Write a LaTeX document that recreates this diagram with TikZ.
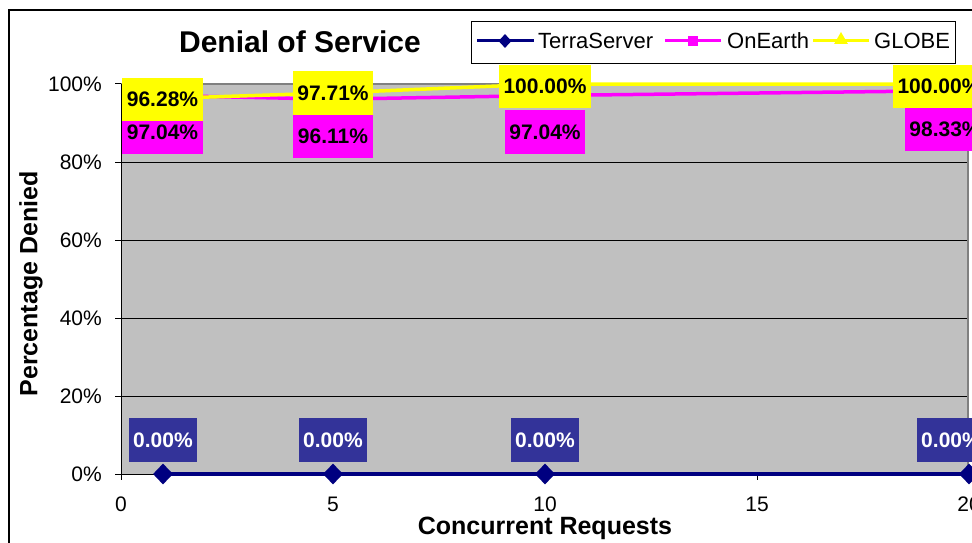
\documentclass[tikz,border=0pt]{standalone}
\usepackage{fontspec}
\setmainfont{Liberation Sans}
\usetikzlibrary{shapes.geometric}
\definecolor{plotgray}{HTML}{C0C0C0}
\definecolor{bordergray}{HTML}{808080}
\definecolor{navyc}{HTML}{000080}
\definecolor{lblblue}{HTML}{333399}
\definecolor{magentac}{HTML}{FF00FF}
\definecolor{yellowc}{HTML}{FFFF00}
\begin{document}
\begin{tikzpicture}[x=1pt,y=-1pt,
  ticklbl/.style={font=\fontsize{21}{25}\selectfont, inner sep=0pt},
  axtitle/.style={font=\bfseries\fontsize{25}{30}\selectfont, inner sep=0pt},
  datalbl/.style={font=\bfseries\fontsize{21}{25}\selectfont, inner sep=0pt, text=black},
  maglbl/.style={datalbl, fill=magentac, minimum width=80pt, minimum height=44pt},
  yellbl/.style={datalbl, fill=yellowc, minimum height=43pt},
  bluelbl/.style={datalbl, fill=lblblue, text=white, minimum width=68pt, minimum height=44pt},
  grid/.style={black, line width=1pt},
  terra/.style={navyc, line width=4pt},
  onearth/.style={magentac, line width=3.5pt},
  globe/.style={yellowc, line width=3.5pt},
  dmark/.style={diamond, fill=navyc, inner sep=0pt, minimum width=20pt, minimum height=21pt},
  smark/.style={rectangle, fill=magentac, inner sep=0pt, minimum size=10pt},
  tmark/.style={isosceles triangle, isosceles triangle apex angle=60, shape border rotate=90, fill=yellowc, inner sep=0pt, minimum size=11pt},
  legtext/.style={font=\fontsize{22}{26}\selectfont, inner sep=0pt, anchor=west}
]
\useasboundingbox (0,0) rectangle (972,543);
\clip (0,0) rectangle (972,543);
\fill[white] (0,0) rectangle (972,543);

% outer chart frame
\draw[black, line width=2pt] (9,600) -- (9,10) -- (1000,10);

% plot area
\fill[plotgray] (121,84) rectangle (968,474);
\foreach \yy in {162,240,318,396} \draw[grid] (121,\yy) -- (968,\yy);
\draw[bordergray, line width=1.5pt] (121,84) -- (968,84) -- (968,474);
\draw[black, line width=1pt] (121,84) -- (121,474) -- (968,474);

% y ticks and labels
\foreach \yy/\lab in {84/100\%,162/80\%,240/60\%,318/40\%,396/20\%,474/0\%} {
  \draw[black, line width=1pt] (115,\yy) -- (121,\yy);
  \node[ticklbl, anchor=east] at (102,\yy) {\lab};
}
% x ticks and labels
\foreach \xx/\lab in {121/0,333/5,545/10,757/15,969/20} {
  \draw[black, line width=1pt] (\xx,474) -- (\xx,480);
  \node[ticklbl] at (\xx,504) {\lab};
}

% data coordinates
\coordinate (t1) at (163,474);
\coordinate (t2) at (333,474);
\coordinate (t3) at (545,474);
\coordinate (t4) at (969,474);
\coordinate (o1) at (163,{474-3.9*97.04});
\coordinate (o2) at (333,{474-3.9*96.11});
\coordinate (o3) at (545,{474-3.9*97.04});
\coordinate (o4) at (969,{474-3.9*98.33});
\coordinate (g1) at (163,{474-3.9*96.28});
\coordinate (g2) at (333,{474-3.9*97.71});
\coordinate (g3) at (545,{474-3.9*100});
\coordinate (g4) at (969,{474-3.9*100});

% series lines
\draw[terra] (t1) -- (t2) -- (t3) -- (t4);
\draw[onearth] (o1) -- (o2) -- (o3) -- (o4);
\draw[globe] (g1) -- (g2) -- (g3) -- (g4);
\foreach \p in {t1,t2,t3,t4} \node[dmark] at (\p) {};
\foreach \p in {o1,o2,o3,o4} \node[smark] at (\p) {};
\foreach \p in {g1,g2,g3,g4} \node[tmark] at (\p) {};

% OnEarth labels
\node[maglbl, minimum width=81pt] (lo1) at (162.5,132) {97.04\%};
\node[maglbl] (lo2) at (333,136) {96.11\%};
\node[maglbl] (lo3) at (545,132) {97.04\%};
\node[maglbl] (lo4) at (945,129) {98.33\%};
% GLOBE labels
\node[yellbl, minimum width=81pt] (lg1) at (162.5,99.5) {96.28\%};
\node[yellbl, minimum width=80pt] (lg2) at (333,93) {97.71\%};
\node[yellbl, minimum width=92pt] (lg3) at (545,86.5) {100.00\%};
\node[yellbl, minimum width=92pt] (lg4) at (939,86.5) {100.00\%};
% TerraServer labels
\node[bluelbl] (lt1) at (163,440) {0.00\%};
\node[bluelbl] (lt2) at (333,440) {0.00\%};
\node[bluelbl] (lt3) at (545,440) {0.00\%};
\node[bluelbl] (lt4) at (951,440) {0.00\%};

% legend
\node[draw=black, fill=white, line width=1pt, minimum width=484pt, minimum height=42pt, inner sep=0pt] (legend) at (713,43) {};
\coordinate (la1) at (477,41); \coordinate (lb1) at (534,41);
\coordinate (la2) at (665,41); \coordinate (lb2) at (721,41);
\coordinate (la3) at (813,41); \coordinate (lb3) at (869,41);
\draw[navyc, line width=3pt] (la1) -- (lb1);
\node[dmark, minimum width=13pt, minimum height=14pt] at (505,41) {};
\node[legtext] (lt) at (538,41) {TerraServer};
\draw[magentac, line width=3pt] (la2) -- (lb2);
\node[smark] at (693,41) {};
\node[legtext] (lo) at (727,41) {OnEarth};
\draw[yellowc, line width=3pt] (la3) -- (lb3);
\node[tmark, minimum size=12pt] at (841,40) {};
\node[legtext] (lgl) at (874,41) {GLOBE};

% titles
\node[font=\bfseries\fontsize{30}{36}\selectfont, inner sep=0pt] (title) at (300,42) {Denial of Service};
\node[axtitle, rotate=90] (ytitle) at (31,284) {Percentage Denied};
\node[axtitle] (xtitle) at (545,528) {Concurrent Requests};
\end{tikzpicture}
\end{document}
